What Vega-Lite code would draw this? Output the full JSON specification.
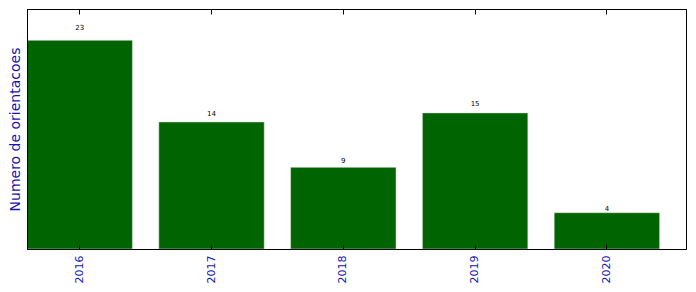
{
  "$schema": "https://vega.github.io/schema/vega-lite/v6.json",
  "width": 659,
  "height": 240,
  "autosize": {"type": "none"},
  "padding": {"left": 27, "top": 9, "right": 10, "bottom": 43},
  "config": {
    "view": {"stroke": "black", "strokeWidth": 1},
    "font": "DejaVu Sans"
  },
  "data": {
    "values": [
      {"ano": "2016", "n": 23},
      {"ano": "2017", "n": 14},
      {"ano": "2018", "n": 9},
      {"ano": "2019", "n": 15},
      {"ano": "2020", "n": 4}
    ]
  },
  "layer": [
    {
      "mark": {"type": "bar", "color": "#006400", "stroke": "#e8f0e8", "strokeWidth": 0.5},
      "encoding": {
        "x": {
          "field": "ano",
          "type": "ordinal",
          "scale": {"paddingInner": 0.2, "paddingOuter": 0.1, "align": 0},
          "axis": {
            "orient": "bottom",
            "title": null,
            "labelAngle": -90,
            "labelColor": "#1515b0",
            "labelFontSize": 11,
            "labelFont": "DejaVu Sans",
            "labelPadding": 11,
            "tickSize": -5,
            "tickColor": "black",
            "domainColor": "black",
            "labelBaseline": "middle",
            "labelAlign": "right",
            "zindex": 1
          }
        },
        "y": {
          "field": "n",
          "type": "quantitative",
          "scale": {"domain": [0, 26.45], "nice": false},
          "axis": {
            "title": "Numero de orientacoes",
            "titleColor": "#1515b0",
            "titleFontSize": 14,
            "titleFontWeight": "normal",
            "titleFont": "DejaVu Sans",
            "labels": false,
            "ticks": false,
            "grid": false,
            "domainColor": "black",
            "titlePadding": 5,
            "zindex": 1
          }
        }
      }
    },
    {
      "mark": {"type": "text", "baseline": "bottom", "fontSize": 7, "color": "black", "dy": 1},
      "encoding": {
        "x": {
          "field": "ano",
          "type": "ordinal",
          "axis": {
            "orient": "top",
            "title": null,
            "labels": false,
            "tickSize": -5,
            "tickColor": "black",
            "domainColor": "black",
            "zindex": 1
          }
        },
        "y": {
          "field": "n",
          "type": "quantitative",
          "scale": {"domain": [0, 25.19], "nice": false},
          "axis": null
        },
        "text": {"field": "n", "type": "quantitative"}
      }
    }
  ],
  "resolve": {"scale": {"y": "independent"}, "axis": {"x": "independent"}}
}
